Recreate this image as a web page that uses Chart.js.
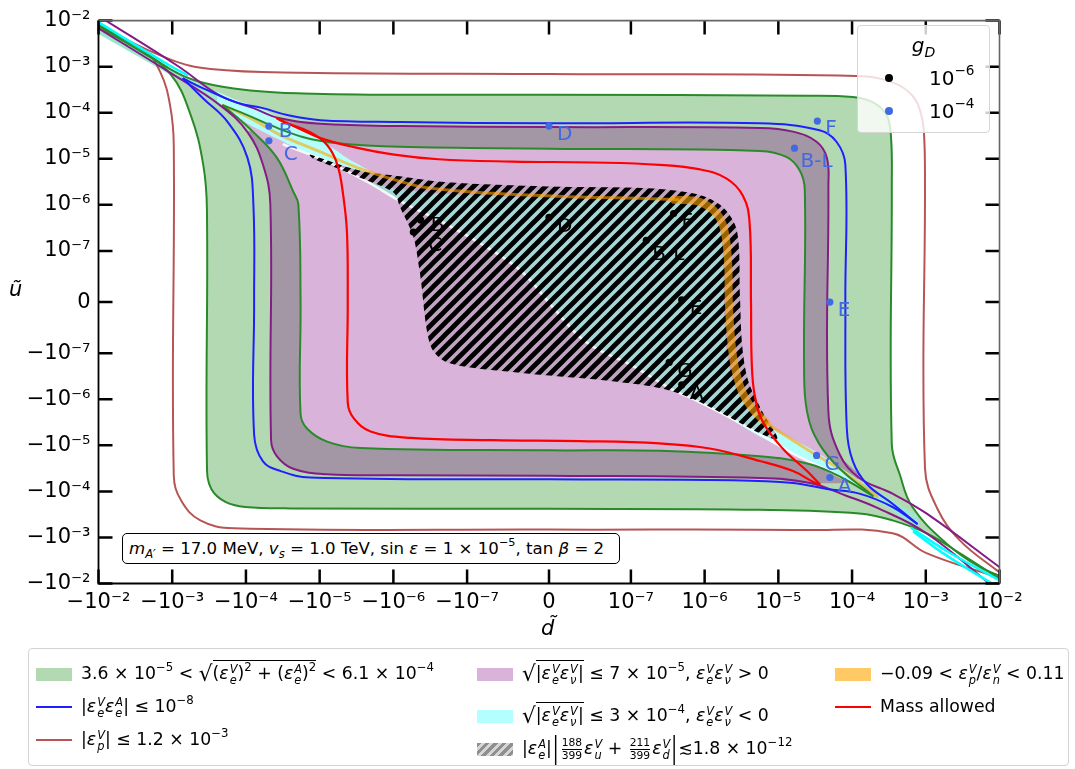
<!DOCTYPE html>
<html>
<head>
<meta charset="utf-8">
<script src="https://cdn.jsdelivr.net/npm/chart.js@4.4.1/dist/chart.umd.min.js"></script>
<style>
body { margin: 0; background: #fff; }
#wrap { position: relative; width: 1075px; height: 769px; font-family: 'DejaVu Sans', sans-serif; color: #000; }
canvas { position: absolute; left: 0; top: 0; }
.abs { position: absolute; white-space: nowrap; }
sup { font-size: 0.68em; vertical-align: baseline; position: relative; top: -0.72em; line-height: 0; }
.ss { display: inline-block; vertical-align: -0.42em; font-size: 0.66em; line-height: 0.95; font-style: italic; margin-left: 1px; }
.ss b { display: block; font-weight: normal; }
.rad { font-size: 1.25em; vertical-align: -0.08em; }
.ov { border-top: 1.4px solid #000; padding-top: 2px; }
.fr { display: inline-flex; flex-direction: column; font-size: 0.62em; vertical-align: middle; text-align: center; line-height: 1.05; margin: 0 2px; }
.fr b { font-weight: normal; }
.fr b:first-child { border-bottom: 1px solid #000; }
.big { display: inline-block; transform: scaleY(1.7); margin: 0 1px; }
.leg { position: absolute; left: 28px; top: 648px; width: 1039px; height: 116px; border: 1px solid #d3d3d3; border-radius: 4px; font-size: 17.3px; }
.it { position: absolute; height: 26px; line-height: 26px; white-space: nowrap; }
.pt { display: inline-block; width: 36px; height: 13px; margin-right: 9px; vertical-align: middle; }
.ln { display: inline-block; width: 36px; height: 0; border-top: 2.5px solid; margin-right: 9px; vertical-align: middle; }
.gd { position: absolute; left: 857px; top: 25px; width: 131px; height: 106px; background: rgba(255,255,255,0.8); border: 1px solid #d6d6d6; border-radius: 4px; font-size: 20px; }
.dot { position: absolute; width: 8px; height: 8px; border-radius: 50%; }
</style>
</head>
<body>
<div id="wrap">
  <canvas id="chart" width="1075" height="769"></canvas>

  <div class="abs" style="left:9px;top:277px;font-size:21px;font-style:italic">ũ</div>
  <div class="abs" style="left:541px;top:616px;font-size:21px;font-style:italic">d&#771;</div>

  <div class="abs" style="left:122px;top:533px;width:490px;height:29px;border:1.5px solid #000;border-radius:5px;background:#fff;font-size:16.6px;line-height:29px;padding-left:6px">
    <i>m</i><sub style="font-size:0.7em"><i>A′</i></sub> = 17.0 MeV, <i>v</i><sub style="font-size:0.7em"><i>s</i></sub> = 1.0 TeV, sin <i>ε</i> = 1 × 10<sup>−5</sup>, tan <i>β</i> = 2
  </div>

  <div class="gd">
    <div class="abs" style="left:0;width:131px;top:7px;text-align:center;font-style:italic">g<sub style="font-size:0.7em">D</sub></div>
    <div class="dot" style="left:27px;top:48px;background:#000"></div>
    <div class="abs" style="left:71px;top:40px">10<sup>−6</sup></div>
    <div class="dot" style="left:27px;top:81px;background:royalblue"></div>
    <div class="abs" style="left:71px;top:73px">10<sup>−4</sup></div>
  </div>

  <div class="leg">
    <div class="it" style="left:7px;top:11px"><span class="pt" style="background:#b3d9b3"></span>3.6 × 10<sup>−5</sup> &lt; <span class="rad">√</span><span class="ov">(<i>ε</i><span class="ss"><b>V</b><b>e</b></span>)<sup>2</sup> + (<i>ε</i><span class="ss"><b>A</b><b>e</b></span>)<sup>2</sup></span> &lt; 6.1 × 10<sup>−4</sup></div>
    <div class="it" style="left:7px;top:44px"><span class="ln" style="border-color:#1f1fff"></span>|<i>ε</i><span class="ss"><b>V</b><b>e</b></span><i>ε</i><span class="ss"><b>A</b><b>e</b></span>| ≤ 10<sup>−8</sup></div>
    <div class="it" style="left:7px;top:77px"><span class="ln" style="border-color:#b75555"></span>|<i>ε</i><span class="ss"><b>V</b><b>p</b></span>| ≤ 1.2 × 10<sup>−3</sup></div>

    <div class="it" style="left:448px;top:11px"><span class="pt" style="background:#d9b3d9"></span><span class="rad">√</span><span class="ov">|<i>ε</i><span class="ss"><b>V</b><b>e</b></span><i>ε</i><span class="ss"><b>V</b><b>ν</b></span>|</span> ≤ 7 × 10<sup>−5</sup>, <i>ε</i><span class="ss"><b>V</b><b>e</b></span><i>ε</i><span class="ss"><b>V</b><b>ν</b></span> &gt; 0</div>
    <div class="it" style="left:448px;top:53px"><span class="pt" style="background:#b3ffff"></span><span class="rad">√</span><span class="ov">|<i>ε</i><span class="ss"><b>V</b><b>e</b></span><i>ε</i><span class="ss"><b>V</b><b>ν</b></span>|</span> ≤ 3 × 10<sup>−4</sup>, <i>ε</i><span class="ss"><b>V</b><b>e</b></span><i>ε</i><span class="ss"><b>V</b><b>ν</b></span> &lt; 0</div>
    <div class="it" style="left:448px;top:86px"><span class="pt" style="background:repeating-linear-gradient(135deg,#8f8f8f 0 3px,#d6d6d6 3px 6px)"></span>|<i>ε</i><span class="ss"><b>A</b><b>e</b></span>|<span class="big">|</span><span class="fr"><b>188</b><b>399</b></span><i>ε</i><span class="ss"><b>V</b><b>u</b></span> + <span class="fr"><b>211</b><b>399</b></span><i>ε</i><span class="ss"><b>V</b><b>d</b></span><span class="big">|</span>≲1.8 × 10<sup>−12</sup></div>

    <div class="it" style="left:806px;top:11px"><span class="pt" style="background:#ffc966"></span>−0.09 &lt; <i>ε</i><span class="ss"><b>V</b><b>p</b></span>/<i>ε</i><span class="ss"><b>V</b><b>n</b></span> &lt; 0.11</div>
    <div class="it" style="left:806px;top:44px"><span class="ln" style="border-color:#ff0000"></span>Mass allowed</div>
  </div>
</div>

<script>
// axis positions are in symlog "decade" units: 0 <-> 0, 10^-7 <-> 1.111, each further decade +1
const tickPos = [-6.111, -5.111, -4.111, -3.111, -2.111, -1.111, 0, 1.111, 2.111, 3.111, 4.111, 5.111, 6.111];
const tickLabels = ['−10⁻²', '−10⁻³', '−10⁻⁴', '−10⁻⁵', '−10⁻⁶', '−10⁻⁷', '0', '10⁻⁷', '10⁻⁶', '10⁻⁵', '10⁻⁴', '10⁻³', '10⁻²'];

// |eps_p| <= 1.2e-3 boundaries
const brownUR = [[-6.2,6.05],[-5.14,5.27],[-4.59,5.06],[-3.37,4.98],[0,4.95],[4.17,4.91],[4.66,4.77],[4.93,4.48],[5.05,4.06],[5.09,3.56],[5.10,2.5],[5.10,-3.6],[5.26,-4.46],[5.57,-5.17],[6.07,-5.82],[6.2,-5.95]];
const brownLL = [[-6.2,6.0],[-5.50,5.49],[-5.27,4.98],[-5.14,4.27],[-5.09,3.41],[-5.09,-3.76],[-4.99,-4.31],[-4.73,-4.74],[-4.28,-4.91],[0,-4.94],[3.5,-4.95],[4.66,-5.02],[5.12,-5.45],[6.07,-5.97],[6.2,-6.05]];

// green band: outer and inner boundaries
const greenOutUR = [[-6.2,6.1],[-5.6,5.55],[-5.14,5.06],[-4.69,4.76],[-4.01,4.59],[-3.33,4.53],[-2.0,4.50],[0,4.50],[3.5,4.48],[4.12,4.45],[4.39,4.34],[4.58,4.06],[4.64,3.56],[4.65,2.5],[4.65,-3.09],[4.76,-3.75],[4.93,-4.45],[5.39,-5.24],[5.84,-5.75],[6.2,-6.0]];
const greenOutLL = [[-6.2,6.05],[-5.6,5.5],[-5.14,4.96],[-4.86,4.06],[-4.69,2.98],[-4.64,2.0],[-4.64,-3.56],[-4.58,-4.06],[-4.39,-4.34],[-4.12,-4.45],[-3.5,-4.48],[0,-4.49],[2.86,-4.51],[4.21,-4.59],[4.66,-4.74],[5.12,-5.02],[5.57,-5.45],[6.2,-6.1]];
const greenInUR = [[-4.42,4.27],[-4.09,4.06],[-3.78,3.84],[-3.33,3.58],[-2.87,3.45],[-2.02,3.37],[0,3.33],[2.86,3.28],[3.22,3.15],[3.40,2.86],[3.47,2.43],[3.46,-1.3],[3.50,-2.38],[3.67,-3.09],[3.98,-3.67],[4.31,-4.10],[4.39,-4.21]];
const greenInLL = [[-4.42,4.27],[-4.01,3.69],[-3.69,3.13],[-3.47,2.40],[-3.40,2.12],[-3.37,0],[-3.37,-2.43],[-3.28,-2.75],[-3.01,-3.03],[-2.56,-3.17],[0,-3.22],[1.5,-3.23],[2.86,-3.35],[3.54,-3.52],[3.98,-3.82],[4.39,-4.21]];

// edge of the eps_e*eps_nu > 0 region
const purpleUR = [[-6.05,6.15],[-5.04,5.13],[-4.46,4.48],[-4.01,4.21],[-3.65,3.99],[-3.10,3.87],[-2.0,3.82],[0,3.80],[2.86,3.78],[3.31,3.70],[3.63,3.48],[3.77,3.13],[3.79,2.5],[3.79,-2.38],[3.94,-3.30],[4.21,-3.82],[4.66,-4.16],[5.12,-4.59],[6.15,-5.8]];
const purpleLL = [[-6.15,5.98],[-5.14,4.98],[-4.46,4.27],[-4.09,3.69],[-3.88,2.98],[-3.78,2.12],[-3.77,-3.0],[-3.69,-3.35],[-3.47,-3.62],[-3.01,-3.74],[-2,-3.76],[0,-3.77],[2.86,-3.82],[3.54,-3.93],[4.04,-4.21],[4.44,-4.46],[5.12,-5.02],[6.0,-6.15]];

// |eps_e^V eps_e^A| <= 1e-8
const blueUR = [[-4.96,4.85],[-4.69,4.64],[-4.23,4.33],[-3.88,4.21],[-3.55,4.06],[-3.10,3.95],[-2.02,3.91],[0,3.88],[2.86,3.88],[3.67,3.73],[3.90,3.48],[4.02,2.98],[4.02,0],[4.04,-2.75],[4.12,-3.45],[4.31,-3.95],[4.66,-4.38],[4.99,-4.81]];
const blueLL = [[-4.96,4.85],[-4.69,4.42],[-4.36,3.91],[-4.09,3.13],[-4.01,2.12],[-4.0,0],[-4.0,-2.88],[-3.88,-3.46],[-3.64,-3.67],[-3.24,-3.81],[0,-3.85],[2.5,-3.87],[3.31,-3.93],[3.77,-4.06],[4.21,-4.16],[4.66,-4.45],[4.99,-4.81]];

// mass allowed
const redUR = [[-3.69,3.99],[-3.41,3.78],[-3.10,3.56],[-2.66,3.37],[-2.1,3.2],[-1.5,3.1],[-0.5,3.05],[0.6,3.03],[1.5,2.98],[2.05,2.88],[2.41,2.68],[2.63,2.31],[2.72,1.74],[2.74,0],[2.75,-1.31],[2.79,-2.02],[2.90,-2.60],[3.17,-3.18],[3.50,-3.67],[3.67,-3.95]];
const redLL = [[-3.69,3.99],[-3.60,3.91],[-3.24,3.69],[-3.01,3.41],[-2.87,2.98],[-2.79,2.3],[-2.74,1.5],[-2.73,0],[-2.73,-2.18],[-2.65,-2.52],[-2.42,-2.81],[-1.88,-2.95],[-0.76,-3.0],[0.42,-3.02],[1.50,-3.07],[2.18,-3.18],[2.86,-3.45],[3.31,-3.67],[3.60,-3.92],[3.67,-3.95]];

// eps_e*eps_nu < 0 band
const cyanTL = [[-6.2,6.16],[-5.14,5.13],[-4.91,4.93]];
const cyanBR1 = [[4.92,-4.91],[5.39,-5.40],[6.2,-6.12]];
const cyanBR2 = [[4.95,-4.99],[5.39,-5.50],[6.1,-6.2]];
const stripTLOuter = [[-6.2,6.2],[-4.96,4.91],[-4.69,4.70],[-4.5,4.57],[-4.5,4.29],[-4.73,4.53],[-5.07,4.87],[-6.2,5.9]];
const stripTLInner = [[-4.5,4.57],[-4.23,4.38],[-3.88,4.18],[-3.51,3.88],[-3.10,3.52],[-2.70,3.09],[-2.36,2.77],[-2.36,2.60],[-2.76,2.85],[-3.24,3.20],[-3.65,3.52],[-4.05,3.84],[-4.39,4.18],[-4.5,4.29]];
const stripBRInner = [[2.05,-2.0],[2.59,-2.47],[2.99,-2.73],[3.31,-2.98],[3.63,-3.26],[3.94,-3.58],[4.21,-3.88],[4.21,-4.06],[4.04,-3.86],[3.67,-3.56],[3.31,-3.28],[2.86,-2.92],[2.41,-2.49],[2.05,-2.19]];
const stripBROuter = [[4.21,-3.88],[4.66,-4.31],[5.0,-4.65],[5.0,-4.95],[4.66,-4.53],[4.21,-4.06]];
const gapLine = [[-3.6,3.42],[-3.24,3.20],[-2.9,2.97],[-2.43,2.58],[-2.02,2.19],[-1.48,1.76],[-0.93,1.27],[-0.39,0.69],[0.05,-0.11],[0.51,-0.88],[1.14,-1.39],[1.68,-1.91],[1.95,-2.10],[2.41,-2.47],[2.86,-2.87],[3.31,-3.29],[3.67,-3.57],[4.04,-3.87]];

// hatched region and its cyan part
const hatchEdge = [[-3.27,3.22],[-2.56,2.85],[-2.11,2.75],[-1.38,2.60],[-0.03,2.51],[1.33,2.47],[2.01,2.34],[2.36,2.06],[2.55,1.55],[2.59,0.13],[2.62,-0.94],[2.70,-1.70],[2.90,-2.40],[3.10,-2.97],[2.86,-2.85],[2.41,-2.47],[1.95,-2.10],[1.54,-1.88],[0.87,-1.72],[-0.49,-1.52],[-1.38,-1.31],[-1.61,-0.94],[-1.75,0.62],[-1.84,1.42],[-2.02,2.06],[-2.11,2.38],[-2.56,2.70],[-3.20,3.11]];
const tealEdge = [[-2.43,2.60],[-2.11,2.47],[-1.38,2.34],[-0.03,2.26],[1.33,2.22],[1.9,2.15],[2.22,1.92],[2.33,1.5],[2.36,0.8],[2.38,-0.5],[2.42,-1.2],[2.50,-1.75],[2.66,-2.2],[2.9,-2.55],[3.10,-2.97],[2.86,-2.85],[2.41,-2.47],[1.95,-2.10],[1.68,-1.91],[1.14,-1.39],[0.51,-0.88],[0.05,-0.11],[-0.39,0.69],[-0.93,1.27],[-1.48,1.76],[-2.02,2.19],[-2.43,2.55]];

// -0.09 < eps_p/eps_n < 0.11
const orangeThinA = [[-4.42,4.27],[-4.0,3.95],[-3.65,3.63],[-3.10,3.26],[-2.60,2.92],[-2.02,2.62],[-1.65,2.48],[-0.76,2.36],[0.42,2.28],[1.33,2.25],[1.75,2.22]];
const orangeThick = [[1.7,2.22],[2.05,2.17],[2.28,1.91],[2.38,1.55],[2.43,0.84],[2.44,0],[2.47,-0.8],[2.52,-1.4],[2.62,-1.95],[2.75,-2.3],[2.95,-2.62]];
const orangeThinB = [[2.95,-2.62],[3.09,-2.78],[3.54,-3.24],[3.98,-3.67],[4.35,-4.10],[4.45,-4.22]];

// benchmark points
const pointNames = ['B', 'C', 'D', 'F', 'B-L', 'E', 'G', 'A'];
const pointsGd6 = [[-1.74,1.78],[-1.84,1.52],[0.0,1.84],[1.69,1.92],[1.32,1.34],[1.80,0.05],[1.63,-1.31],[1.80,-1.80]];
const pointsGd4 = [[-3.80,3.82],[-3.80,3.50],[0,3.82],[3.64,3.93],[3.33,3.34],[3.81,0],[3.63,-3.33],[3.81,-3.81]];
// text offset of each name from its dot, in pixels
const nameOffset = [[10, 6], [15, 14], [8, 9], [8, 8], [6, 14], [8, 9], [8, 9], [8, 9]];

Chart.defaults.font.family = "'DejaVu Sans', sans-serif";

const xy = a => a.map(p => ({x: p[0], y: p[1]}));
const closed = (a, b) => a.concat(b.slice().reverse());

function area(poly, color, tension) {
  return { data: xy(poly), fill: 'shape', backgroundColor: color, borderColor: 'transparent', borderWidth: 0, pointRadius: 0, tension: tension };
}
function curve(arr, color, width) {
  return { data: xy(arr), fill: false, borderColor: color, borderWidth: width, pointRadius: 0, tension: 0.4, borderCapStyle: 'round' };
}

// hatch pattern
const tile = document.createElement('canvas');
tile.width = tile.height = 12;
const tc = tile.getContext('2d');
tc.strokeStyle = '#000';
tc.lineWidth = 4.8;
tc.beginPath();
for (const c of [0, 12, 24]) { tc.moveTo(c + 3, -3); tc.lineTo(c - 15, 15); }
tc.stroke();
const hatch = tc.createPattern(tile, 'repeat');

const layers = [
  area(closed(greenOutUR, greenOutLL), '#b3d9b3', 0.4),
  area(closed(purpleUR.slice(4, 16), purpleLL.slice(3, 14)), '#a397a5', 0.4),
  area(closed(greenInUR, greenInLL), '#d9b3d9', 0.4),
  area(stripTLOuter, '#9fe6cf', 0.2),
  area(stripTLInner, '#b3fffb', 0.2),
  area(stripBRInner, '#b3fffb', 0.2),
  area(stripBROuter, '#9fe6cf', 0.2),
  area(hatchEdge, '#c3a3c3', 0.3),
  area(tealEdge, '#a4d8d8', 0.3),
  curve(gapLine, 'rgba(255,255,255,0.85)', 2.5),
  area(hatchEdge, hatch, 0.3),
  curve(orangeThinA, 'rgba(255,165,0,0.6)', 3),
  curve(orangeThick, 'rgba(255,165,0,0.6)', 8),
  curve(orangeThinB, 'rgba(255,165,0,0.6)', 3),
  curve(brownUR, 'rgba(165,42,42,0.8)', 2),
  curve(brownLL, 'rgba(165,42,42,0.8)', 2),
  curve(greenOutUR, '#2a8a2a', 2),
  curve(greenOutLL, '#2a8a2a', 2),
  curve(greenInUR, '#2a8a2a', 2),
  curve(greenInLL, '#2a8a2a', 2),
  curve(purpleUR, '#851c85', 2),
  curve(purpleLL, '#851c85', 2),
  curve(blueUR, '#1f1fff', 2),
  curve(blueLL, '#1f1fff', 2),
  curve(cyanTL, '#00ffff', 2.5),
  curve(cyanBR1, '#00ffff', 2.5),
  curve(cyanBR2, '#00ffff', 2.5),
  curve(redUR, '#ff0000', 2.2),
  curve(redLL, '#ff0000', 2.2),
  { data: xy(pointsGd6), showLine: false, pointRadius: 3.6, pointBorderWidth: 0, pointBackgroundColor: '#000' },
  { data: xy(pointsGd4), showLine: false, pointRadius: 3.6, pointBorderWidth: 0, pointBackgroundColor: 'royalblue' }
];

const frame = {
  id: 'frame',
  afterDatasetsDraw(chart) {
    const {ctx, chartArea: a, scales: {x, y}} = chart;
    ctx.save();
    // point labels
    ctx.font = "20px 'DejaVu Sans'";
    ctx.textBaseline = 'middle';
    ctx.textAlign = 'left';
    [[pointsGd6, '#000'], [pointsGd4, 'royalblue']].forEach(([pts, col]) => {
      ctx.fillStyle = col;
      pts.forEach((p, i) => {
        ctx.fillText(pointNames[i], x.getPixelForValue(p[0]) + nameOffset[i][0], y.getPixelForValue(p[1]) + nameOffset[i][1]);
      });
    });
    // inward ticks on all four sides
    ctx.strokeStyle = '#000';
    ctx.lineWidth = 2.5;
    ctx.beginPath();
    for (const v of tickPos) {
      const px = x.getPixelForValue(v), py = y.getPixelForValue(v);
      ctx.moveTo(px, a.bottom); ctx.lineTo(px, a.bottom - 14);
      ctx.moveTo(px, a.top); ctx.lineTo(px, a.top + 14);
      ctx.moveTo(a.left, py); ctx.lineTo(a.left + 14, py);
      ctx.moveTo(a.right, py); ctx.lineTo(a.right - 14, py);
    }
    ctx.stroke();
    // spines
    ctx.lineWidth = 1.6;
    ctx.strokeStyle = '#666';
    ctx.beginPath();
    ctx.moveTo(a.left, a.top); ctx.lineTo(a.right, a.top); ctx.lineTo(a.right, a.bottom);
    ctx.stroke();
    ctx.strokeStyle = '#000';
    ctx.lineWidth = 1.8;
    ctx.beginPath();
    ctx.moveTo(a.left, a.top); ctx.lineTo(a.left, a.bottom); ctx.lineTo(a.right, a.bottom);
    ctx.stroke();
    ctx.restore();
  }
};

const axisTicks = {
  autoSkip: false, maxRotation: 0, minRotation: 0, color: '#000',
  font: { size: 21 },
  callback: (v, i) => tickLabels[i]
};

new Chart(document.getElementById('chart'), {
  type: 'line',
  data: { datasets: layers.reverse() },
  options: {
    responsive: false,
    animation: false,
    events: [],
    layout: { autoPadding: false, padding: { left: 0, top: 14, right: 75.5, bottom: 135.5 } },
    plugins: { legend: { display: false }, tooltip: { enabled: false } },
    scales: {
      x: {
        type: 'linear', min: -6.111, max: 6.111,
        grid: { display: false, drawTicks: false },
        border: { display: false },
        ticks: Object.assign({ padding: 6 }, axisTicks),
        afterBuildTicks: s => { s.ticks = tickPos.map(v => ({ value: v })); },
        afterFit: s => { s.height = 50; }
      },
      y: {
        type: 'linear', min: -6.111, max: 6.111,
        grid: { display: false, drawTicks: false },
        border: { display: false },
        ticks: Object.assign({ padding: 8 }, axisTicks),
        afterBuildTicks: s => { s.ticks = tickPos.map(v => ({ value: v })); },
        afterFit: s => { s.width = 98.5; }
      }
    }
  },
  plugins: [frame]
});
</script>
</body>
</html>
